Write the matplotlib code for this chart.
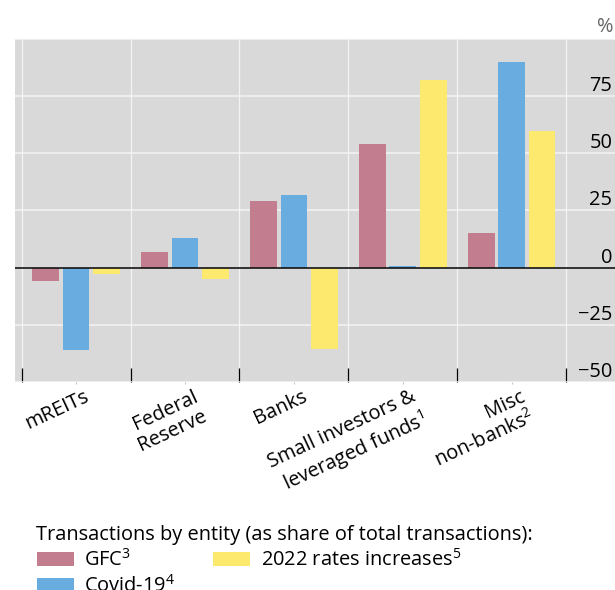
import numpy as np
import matplotlib
matplotlib.use("Agg")
import matplotlib.pyplot as plt
from matplotlib.transforms import ScaledTranslation

plt.rcParams['font.family'] = ['Open Sans', 'DejaVu Sans']
plt.rcParams['mathtext.fontset'] = 'custom'
plt.rcParams['mathtext.rm'] = 'Open Sans'
plt.rcParams['mathtext.it'] = 'Open Sans'
plt.rcParams['mathtext.default'] = 'regular'

# ---- data ----
categories = ["mREITs", "Federal\nReserve", "Banks",
              "Small investors &\nleveraged funds$^{1}$", "Misc\nnon-banks$^{2}$"]
gfc = [-6, 7, 29, 54, 15]
covid = [-36, 13, 32, 0.5, 90]
rates_2022 = [-3, -5, -35.5, 82, 60]
series_names = ["GFC$^{3}$", "Covid-19$^{4}$", "2022 rates increases$^{5}$"]
yticks = [-50, -25, 0, 25, 50, 75, 100]
ytick_labels = ["\u221250", "\u221225", "0", "25", "50", "75", ""]

colors = ["#c27e8e", "#69ade0", "#fee96f"]
FS = 14.4

W, H = 615, 590
fig = plt.figure(figsize=(W / 100, H / 100), dpi=100)
ax = fig.add_axes([15 / W, 208.3 / H, 600 / W, 342.4 / H])
ax.set_facecolor("#d9d9d9")
for s in ax.spines.values():
    s.set_visible(False)

x = np.arange(len(categories))
width = 0.245
offs = [-0.28, 0.0, 0.28]
handles = []
for vals, off, c in zip([gfc, covid, rates_2022], offs, colors):
    h = ax.bar(x + off, vals, width, color=c, zorder=2)
    handles.append(h)

ax.axhline(0, color="#111111", lw=1.2, zorder=3)

ax.set_xlim(-0.561, 4.949)
ax.set_ylim(-50, 100)

# y axis: labels inside on right, above gridlines
ax.yaxis.tick_right()
ax.set_yticks(yticks)
ax.set_yticklabels(ytick_labels)
ax.tick_params(axis="y", length=0, pad=-2, labelsize=FS, labelcolor="black")
for lbl in ax.get_yticklabels():
    lbl.set_ha("right")
    lbl.set_va("bottom")
ax.grid(axis="y", color="#f4f4f4", lw=1.1, zorder=1)

# x axis: boundaries as major ticks (inward, black), centres as minor (labels)
bounds = np.arange(-0.5, len(categories), 1.0)
ax.set_xticks(bounds)
ax.set_xticklabels([""] * len(bounds))
ax.set_xticks(x, minor=True)
ax.set_xticklabels(categories, minor=True, rotation=25, ha="right",
                   rotation_mode="anchor", fontsize=FS)
ax.tick_params(axis="x", which="major", direction="in", length=10.4,
               width=0.9, color="black")
ax.tick_params(axis="x", which="minor", direction="out", length=1.5,
               width=0.8, color="#c4c4c4", pad=2)
for b in bounds:
    ax.axvline(b, color="#f4f4f4", lw=0.9, zorder=1)
shift = ScaledTranslation(8 / 100, 0, fig.dpi_scale_trans)
for lbl in ax.get_xticklabels(minor=True):
    lbl.set_transform(lbl.get_transform() + shift)
    lbl.set_multialignment("right")
    lbl.set_linespacing(1.1)

ax.annotate("%", xy=(1, 1), xycoords="axes fraction", xytext=(-1.2, 1.5),
            textcoords="offset points", ha="right", va="bottom",
            fontsize=FS, color="#666666")

leg = fig.legend(handles, series_names, loc="upper left",
                 bbox_to_anchor=(36.5 / W, (H - 525) / H), ncol=2,
                 frameon=False,
                 title="Transactions by entity (as share of total transactions):",
                 alignment="left", title_fontsize=FS, fontsize=FS,
                 handlelength=1.85, handleheight=0.72, handletextpad=0.55,
                 columnspacing=1.85, labelspacing=0.2, borderpad=0,
                 borderaxespad=0)

fig.savefig("out.png", dpi=100)
